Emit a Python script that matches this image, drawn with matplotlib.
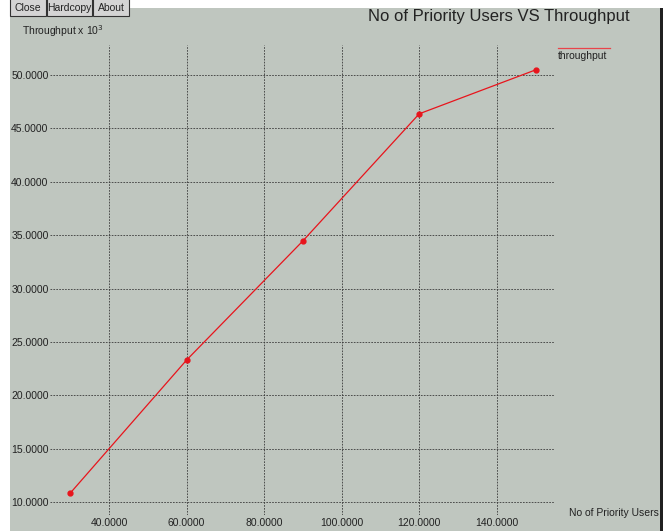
import matplotlib.pyplot as plt
from matplotlib.patches import Rectangle
import numpy as np

users = [30, 60, 90, 120, 150]
throughput = [10.84, 23.3, 34.46, 46.36, 50.47]
x_ticks = [40, 60, 80, 100, 120, 140]
y_ticks = [10, 15, 20, 25, 30, 35, 40, 45, 50]

bg = '#bfc6bf'
plt.rcParams['font.family'] = ['Liberation Sans', 'DejaVu Sans']

W, H = 665, 531
fig = plt.figure(figsize=(W / 100, H / 100), dpi=100, facecolor='white')

# gray panel + dark right border
fig.patches.append(Rectangle((10 / W, 0), 650 / W, (H - 8) / H, transform=fig.transFigure,
                             facecolor=bg, edgecolor='none', zorder=-10))
fig.patches.append(Rectangle((660 / W, 0), 3 / W, (H - 8) / H, transform=fig.transFigure,
                             facecolor='#202020', edgecolor='none', zorder=-9))

# buttons at top left (partly cut off)
for bx, bw, lab in [(10, 36, 'Close'), (47, 45, 'Hardcopy'), (93, 36, 'About')]:
    fig.patches.append(Rectangle((bx / W, (H - 16) / H), bw / W, 20 / H, transform=fig.transFigure,
                                 facecolor='#d4d4d4', edgecolor='#333333', lw=0.8, zorder=2))
    fig.text((bx + bw / 2) / W, (H - 8) / H, lab, ha='center', va='center', fontsize=7.5,
             color='#222222', zorder=3)

ax = fig.add_axes([50 / W, 16 / H, 505 / W, 470 / H])
ax.set_facecolor(bg)
ax.plot(users, throughput, color='#e8141c', lw=0.9, marker='o', ms=3.5, label='throughput')
ax.set_xlim(24.8, 155)
ax.set_ylim(8.8, 52.8)
ax.set_xticks(x_ticks)
ax.set_xticklabels([f"{v:.4f}" for v in x_ticks], fontsize=7.5, color='#222222')
ax.set_yticks(y_ticks)
ax.set_yticklabels([f"{v:.4f}" for v in y_ticks], fontsize=7.5, color='#222222')
ax.tick_params(length=0, pad=1)
ax.tick_params(axis='x', pad=2)
for s in ax.spines.values():
    s.set_visible(False)
ax.grid(True, color='#3a3a3a', linestyle=(0, (2, 1.5)), lw=0.6)

fig.text(22 / W, 1 - 31 / H, r'Throughput x 10$^3$', fontsize=7.5, va='center', color='#222222')
fig.text(630 / W, 1 - 17 / H, 'No of Priority Users VS Throughput', fontsize=12, ha='right',
         va='center', color='#222222')
fig.text(659 / W, 1 - 513 / H, 'No of Priority Users', fontsize=7.5, ha='right', va='center', color='#222222')

# legend
fig.lines.append(plt.Line2D([558 / W, 610 / W], [1 - 48 / H, 1 - 48 / H], transform=fig.transFigure,
                            color='#e8444a', lw=0.9))
fig.text(558 / W, 1 - 56 / H, 'throughput', fontsize=7.5, va='center', color='#222222')

fig.savefig('out.png', dpi=100, facecolor='white')
